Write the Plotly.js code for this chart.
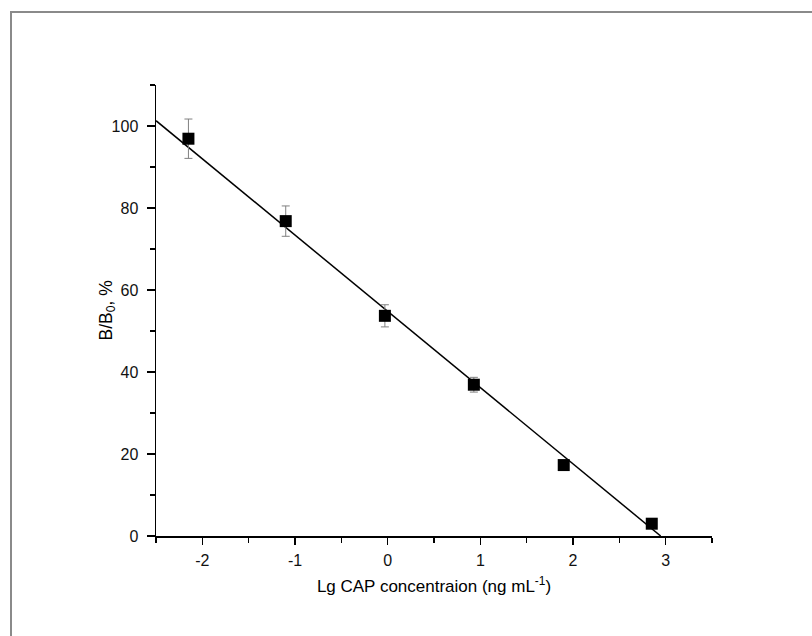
<!DOCTYPE html>
<html>
<head>
<meta charset="utf-8">
<script src="https://cdn.plot.ly/plotly-3.0.1.min.js"></script>
<style>
  html, body { margin: 0; padding: 0; background: #fff; }
  #wrap { position: relative; width: 812px; height: 636px; overflow: hidden; }
  #chart { position: absolute; left: 0; top: 0; width: 812px; height: 636px; }
  #frame { position: absolute; left: 10px; top: 11px; width: 900px; height: 700px;
           border-left: 2px solid #8a8a8a; border-top: 2px solid #8a8a8a; pointer-events: none; }
</style>
</head>
<body>
<div id="wrap"><div id="chart"></div><div id="frame"></div></div>
<script>
// Data
const lgConc = [-2.15, -1.1, -0.03, 0.93, 1.9, 2.85];
const bOverB0 = [96.9, 76.8, 53.7, 36.9, 17.3, 3.0];
const errBars = [4.8, 3.7, 2.7, 1.8, 1.0, 1.0];
// Linear fit line (y = intercept + slope * x)
const fitSlope = -18.6;
const fitIntercept = 54.8;
const fitXStart = -2.5;
const fitXEnd = -fitIntercept / fitSlope;
const xTickVals = [-2, -1, 0, 1, 2, 3];
const yTickVals = [0, 20, 40, 60, 80, 100];
const xTitle = 'Lg CAP concentraion (ng mL<sup>-1</sup>)';
const yTitle = 'B/B<sub>0</sub>, %';

const fitX = [fitXStart, fitXEnd];
const fitY = fitX.map(x => fitIntercept + fitSlope * x);

const traces = [
  {
    x: fitX, y: fitY, mode: 'lines', type: 'scatter',
    line: { color: '#000', width: 1.5 }, hoverinfo: 'skip'
  },
  {
    x: lgConc, y: bOverB0, mode: 'markers', type: 'scatter',
    marker: { symbol: 'square', size: 12, color: '#000' },
    error_y: { type: 'data', array: errBars, visible: true, color: '#808080', thickness: 1, width: 4 }
  }
];

const fontFam = 'Liberation Sans, Arial, sans-serif';
const layout = {
  width: 812, height: 636,
  margin: { l: 156, r: 100, t: 85, b: 100, pad: 0 },
  paper_bgcolor: '#fff', plot_bgcolor: '#fff',
  showlegend: false,
  font: { family: fontFam, color: '#000', size: 15 },
  xaxis: {
    range: [-2.5, 3.5], showgrid: false, zeroline: false,
    showline: true, linecolor: '#000', linewidth: 1.5,
    ticks: 'outside', ticklen: 7, tickwidth: 1.3, tickcolor: '#000',
    tickvals: xTickVals, ticktext: xTickVals.map(String),
    ticklabelstandoff: 2,
    tickfont: { size: 16, family: fontFam, color: '#111' },
    minor: { dtick: 0.5, tick0: -2.5, ticks: 'outside', ticklen: 5, tickwidth: 1.3, tickcolor: '#000' },
    title: { text: xTitle, font: { size: 17, family: fontFam }, standoff: 12 }
  },
  yaxis: {
    range: [0, 110], showgrid: false, zeroline: false,
    showline: true, linecolor: '#000', linewidth: 1.5,
    ticks: 'outside', ticklen: 8, tickwidth: 1.3, tickcolor: '#000',
    tickvals: yTickVals, ticktext: yTickVals.map(String),
    ticklabelstandoff: 5,
    tickfont: { size: 16, family: fontFam, color: '#111' },
    minor: { dtick: 10, tick0: 0, ticks: 'outside', ticklen: 5, tickwidth: 1.3, tickcolor: '#000' }
  },
  annotations: [{
    text: yTitle, xref: 'paper', yref: 'paper', x: 0, y: 0.5,
    xanchor: 'center', yanchor: 'middle', xshift: -49, textangle: -90,
    showarrow: false, font: { size: 17.5, family: fontFam, color: '#000' }
  }]
};

Plotly.newPlot('chart', traces, layout, { displayModeBar: false, staticPlot: true });
</script>
</body>
</html>
